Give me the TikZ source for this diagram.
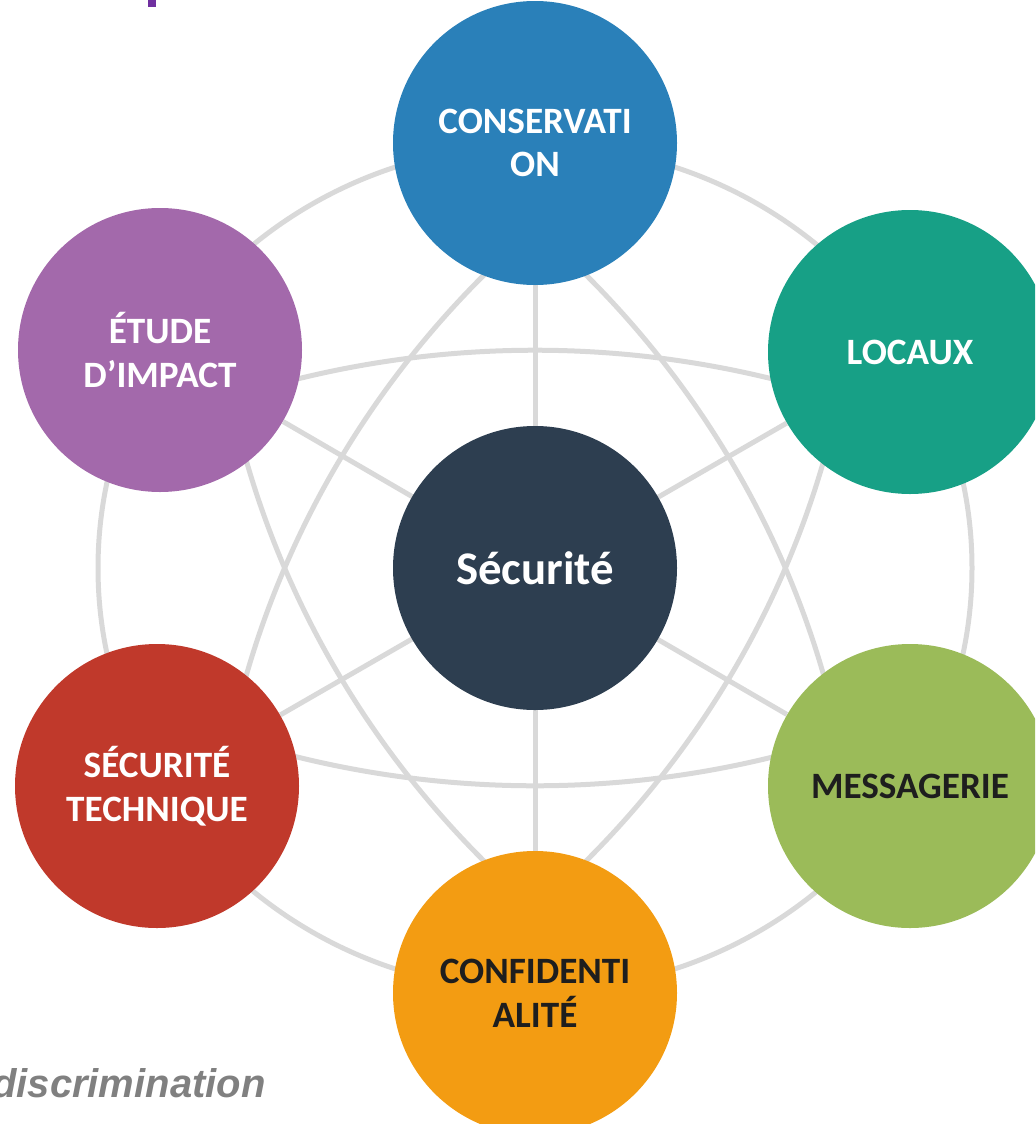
\documentclass[tikz,border=0pt]{standalone}
\usepackage{fontspec}
\setmainfont{Carlito}
\newfontfamily\notefont{Liberation Sans}
\definecolor{hubnavy}{HTML}{2D3E50}
\definecolor{conblue}{HTML}{2A80B9}
\definecolor{loteal}{HTML}{17A086}
\definecolor{msggreen}{HTML}{9BBB59}
\definecolor{confor}{HTML}{F39C12}
\definecolor{secred}{HTML}{C0392B}
\definecolor{etpurple}{HTML}{A369AB}
\definecolor{darktext}{HTML}{1E1E1E}
\definecolor{gridgray}{HTML}{D9D9D9}
\definecolor{notegray}{HTML}{808080}
\definecolor{titlepurple}{HTML}{7030A0}
\pgfdeclarelayer{grid}
\pgfsetlayers{grid,main}
\begin{document}
\begin{tikzpicture}[x=0.5pt,y=-0.5pt,
  bubble/.style={circle, minimum size=142pt, inner sep=0pt, align=center,
    font=\bfseries\fontsize{18.6}{21.8}\selectfont, text=white},
  guide/.style={draw=gridgray, line width=2.5pt}]
\useasboundingbox (0,0) rectangle (1035,1124);
\clip (0,0) rectangle (1035,1124);

% title fragment
\fill[titlepurple] (148,0) rectangle (156,7);

% bubbles
\node[bubble, fill=hubnavy, font=\bfseries\fontsize{23.4}{27}\selectfont] (hub) at (535,568) {Sécurité};
\node[bubble, fill=conblue] (cons) at (535,143) {CONSERVATI\\ON};
\node[bubble, fill=loteal] (loc) at (910,352) {LOCAUX};
\node[bubble, fill=msggreen, text=darktext] (msg) at (910,786) {MESSAGERIE};
\node[bubble, fill=confor, text=darktext] (conf) at (535,993) {CONFIDENTI\\ALITÉ};
\node[bubble, fill=secred] (sect) at (157,786) {SÉCURITÉ\\TECHNIQUE};
\node[bubble, fill=etpurple] (etude) at (160,350) {ÉTUDE\\D’IMPACT};

% background web: spokes, outer ring and bowed star
\begin{pgfonlayer}{grid}
  \draw[guide] (cons) -- (conf);
  \draw[guide] (etude) -- (msg);
  \draw[guide] (loc) -- (sect);
  \begin{scope}[shift={(535,568)}, yscale=-0.968]
    \draw[guide] (0,0) circle[radius=437];
    \foreach \a in {30,90,150,210,270,330}
      \draw[guide, shift={(\a+180:740)}] (\a-22:965)
        arc[start angle=\a-22, end angle=\a+22, radius=965];
  \end{scope}
\end{pgfonlayer}

% footnote word
\node[anchor=base east, inner sep=0pt, text=notegray,
  font=\notefont\bfseries\itshape\fontsize{20}{24}\selectfont] (disc) at (266,1097) {discrimination};
\end{tikzpicture}
\end{document}
